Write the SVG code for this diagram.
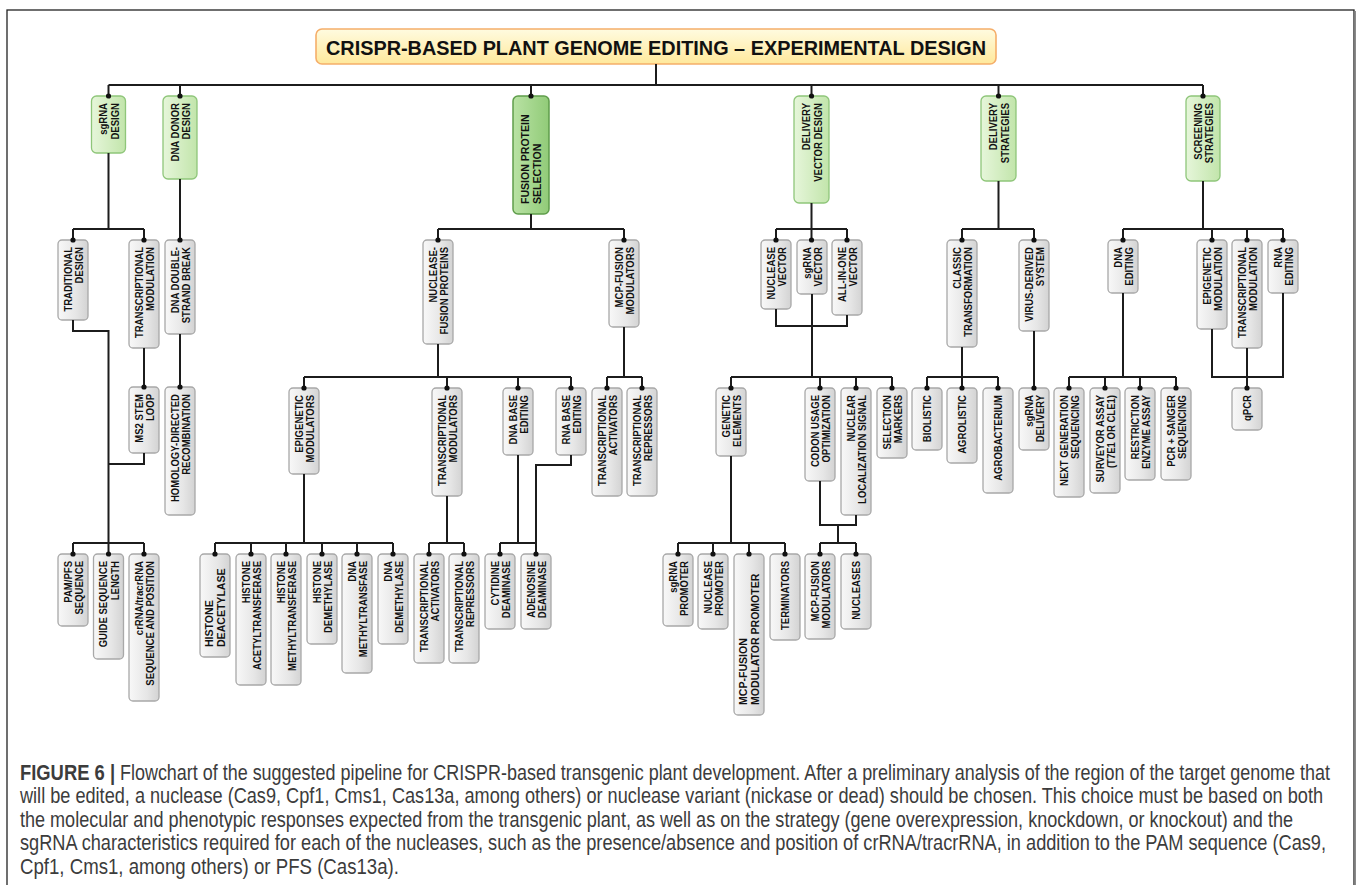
<svg xmlns="http://www.w3.org/2000/svg" width="1356" height="885" viewBox="0 0 1356 885">
<defs>
<linearGradient id="gGray" x1="0" y1="0" x2="1" y2="0"><stop offset="0" stop-color="#f8f8f8"/><stop offset="0.6" stop-color="#e6e6e6"/><stop offset="1" stop-color="#d3d3d3"/></linearGradient>
<linearGradient id="gGreen" x1="0" y1="0" x2="1" y2="0"><stop offset="0" stop-color="#e6f6da"/><stop offset="1" stop-color="#c2e5ab"/></linearGradient>
<linearGradient id="gDark" x1="0" y1="0" x2="1" y2="0"><stop offset="0" stop-color="#b9e2a4"/><stop offset="1" stop-color="#91cb78"/></linearGradient>
<linearGradient id="gTitle" x1="0" y1="0" x2="0" y2="1"><stop offset="0" stop-color="#fffbe0"/><stop offset="1" stop-color="#ffe99c"/></linearGradient>
<marker id="dot" viewBox="0 0 6 6" refX="3" refY="3" markerWidth="6" markerHeight="6" markerUnits="userSpaceOnUse"><circle cx="3" cy="3" r="2.6" fill="#111"/></marker>
</defs>
<style>
.node rect{fill:url(#gGray);stroke:#a8a8a8;stroke-width:1.3}
.green rect{fill:url(#gGreen);stroke:#8fc67a;stroke-width:1.3}
.dark rect{fill:url(#gDark);stroke:#5f9d4b;stroke-width:1.5}
.t{font-family:"Liberation Sans",Arial,sans-serif;font-weight:bold;font-size:10.5px;fill:#111;text-anchor:end}
.big{font-size:11.6px;text-anchor:start}
.c path{fill:none;stroke:#1c1c1c;stroke-width:2}
.c .s{marker-end:url(#dot)}
.cap{font-family:"Liberation Sans",Arial,sans-serif;font-size:21.5px;fill:#3c3c3c}
</style>
<rect x="0" y="0" width="1356" height="885" fill="#ffffff"/>
<rect x="7" y="10" width="1347" height="900" fill="none" stroke="#222" stroke-width="1.3"/>
<line x1="1355.3" y1="11" x2="1355.3" y2="885" stroke="#8a8a8a" stroke-width="1.5"/>

<g id="title">
<rect x="316" y="29" width="680" height="35" rx="6" fill="url(#gTitle)" stroke="#f5ae6a" stroke-width="1.6"/>
<text x="656" y="54.5" text-anchor="middle" font-family="'Liberation Sans',Arial,sans-serif" font-weight="bold" font-size="19.5" fill="#111" textLength="660" lengthAdjust="spacingAndGlyphs">CRISPR-BASED PLANT GENOME EDITING – EXPERIMENTAL DESIGN</text>
</g>

<g id="n-sgrna-design" class="green"><rect x="91.5" y="96" width="34" height="57" rx="5"/><text class="t" transform="translate(107,103) rotate(-90) scale(.91,1)"><tspan x="0" y="0">sgRNA</tspan><tspan x="0" y="12">DESIGN</tspan></text></g>
<g id="n-dna-donor-design" class="green"><rect x="163" y="96" width="34" height="83" rx="5"/><text class="t" transform="translate(178.5,103) rotate(-90) scale(.91,1)"><tspan x="0" y="0">DNA DONOR</tspan><tspan x="0" y="12">DESIGN</tspan></text></g>
<g id="n-fusion-protein-selection" class="dark"><rect x="513" y="96" width="36" height="118" rx="5"/><text class="t big" transform="translate(529,204) rotate(-90) scale(.91,1)"><tspan x="0" y="0">FUSION PROTEIN</tspan><tspan x="0" y="12.5">SELECTION</tspan></text></g>
<g id="n-delivery-vector-design" class="green"><rect x="794" y="96" width="35" height="107" rx="5"/><text class="t" transform="translate(810,103) rotate(-90) scale(.91,1)"><tspan x="0" y="0">DELIVERY</tspan><tspan x="0" y="12">VECTOR DESIGN</tspan></text></g>
<g id="n-delivery-strategies" class="green"><rect x="981" y="96" width="35" height="85" rx="5"/><text class="t" transform="translate(997,103) rotate(-90) scale(.91,1)"><tspan x="0" y="0">DELIVERY</tspan><tspan x="0" y="12">STRATEGIES</tspan></text></g>
<g id="n-screening-strategies" class="green"><rect x="1186" y="96" width="34" height="85" rx="5"/><text class="t" transform="translate(1201.5,103) rotate(-90) scale(.91,1)"><tspan x="0" y="0">SCREENING</tspan><tspan x="0" y="12">STRATEGIES</tspan></text></g>

<g id="n-traditional-design" class="node"><rect x="58" y="240" width="30" height="80" rx="4"/><text class="t" transform="translate(71.5,247) rotate(-90) scale(.91,1)"><tspan x="0" y="0">TRADITIONAL</tspan><tspan x="0" y="12">DESIGN</tspan></text></g>
<g id="n-transcriptional-modulation-1" class="node"><rect x="129" y="240" width="30" height="108" rx="4"/><text class="t" transform="translate(142.5,247) rotate(-90) scale(.91,1)"><tspan x="0" y="0">TRANSCRIPTIONAL</tspan><tspan x="0" y="12">MODULATION</tspan></text></g>
<g id="n-dna-double-strand-break" class="node"><rect x="165" y="240" width="30" height="94" rx="4"/><text class="t" transform="translate(178.5,247) rotate(-90) scale(.91,1)"><tspan x="0" y="0">DNA DOUBLE-</tspan><tspan x="0" y="12">STRAND BREAK</tspan></text></g>
<g id="n-ms2-stem-loop" class="node"><rect x="129" y="387" width="30" height="66" rx="4"/><text class="t" transform="translate(142.5,394) rotate(-90) scale(.91,1)"><tspan x="0" y="0">MS2 STEM</tspan><tspan x="0" y="12">LOOP</tspan></text></g>
<g id="n-homology-directed-recombination" class="node"><rect x="165" y="387" width="30" height="128" rx="4"/><text class="t" transform="translate(178.5,394) rotate(-90) scale(.91,1)"><tspan x="0" y="0">HOMOLOGY-DIRECTED</tspan><tspan x="0" y="12">RECOMBINATION</tspan></text></g>
<g id="n-pam-pfs-sequence" class="node"><rect x="58" y="554" width="30" height="72" rx="4"/><text class="t" transform="translate(71.5,561) rotate(-90) scale(.91,1)"><tspan x="0" y="0">PAM/PFS</tspan><tspan x="0" y="12">SEQUENCE</tspan></text></g>
<g id="n-guide-sequence-length" class="node"><rect x="93.5" y="554" width="30" height="105" rx="4"/><text class="t" transform="translate(107,561) rotate(-90) scale(.91,1)"><tspan x="0" y="0">GUIDE SEQUENCE</tspan><tspan x="0" y="12">LENGTH</tspan></text></g>
<g id="n-crrna-tracrrna" class="node"><rect x="129" y="554" width="30" height="147" rx="4"/><text class="t" transform="translate(142.5,561) rotate(-90) scale(.91,1)"><tspan x="0" y="0">crRNA/tracrRNA</tspan><tspan x="0" y="12">SEQUENCE AND POSITION</tspan></text></g>

<g id="n-nuclease-fusion-proteins" class="node"><rect x="423" y="240" width="30" height="104" rx="4"/><text class="t" transform="translate(436.5,247) rotate(-90) scale(.91,1)"><tspan x="0" y="0">NUCLEASE-</tspan><tspan x="0" y="12">FUSION PROTEINS</tspan></text></g>
<g id="n-mcp-fusion-modulators-1" class="node"><rect x="609" y="240" width="30" height="87" rx="4"/><text class="t" transform="translate(622.5,247) rotate(-90) scale(.91,1)"><tspan x="0" y="0">MCP-FUSION</tspan><tspan x="0" y="12">MODULATORS</tspan></text></g>
<g id="n-epigenetic-modulators" class="node"><rect x="289" y="388" width="30" height="86" rx="4"/><text class="t" transform="translate(302.5,395) rotate(-90) scale(.91,1)"><tspan x="0" y="0">EPIGENETIC</tspan><tspan x="0" y="12">MODULATORS</tspan></text></g>
<g id="n-transcriptional-modulators" class="node"><rect x="432" y="388" width="30" height="108" rx="4"/><text class="t" transform="translate(445.5,395) rotate(-90) scale(.91,1)"><tspan x="0" y="0">TRANSCRIPTIONAL</tspan><tspan x="0" y="12">MODULATORS</tspan></text></g>
<g id="n-dna-base-editing" class="node"><rect x="503" y="388" width="30" height="67" rx="4"/><text class="t" transform="translate(516.5,395) rotate(-90) scale(.91,1)"><tspan x="0" y="0">DNA BASE</tspan><tspan x="0" y="12">EDITING</tspan></text></g>
<g id="n-rna-base-editing" class="node"><rect x="556" y="388" width="30" height="67" rx="4"/><text class="t" transform="translate(569.5,395) rotate(-90) scale(.91,1)"><tspan x="0" y="0">RNA BASE</tspan><tspan x="0" y="12">EDITING</tspan></text></g>
<g id="n-transcriptional-activators-1" class="node"><rect x="592" y="388" width="30" height="108" rx="4"/><text class="t" transform="translate(605.5,395) rotate(-90) scale(.91,1)"><tspan x="0" y="0">TRANSCRIPTIONAL</tspan><tspan x="0" y="12">ACTIVATORS</tspan></text></g>
<g id="n-transcriptional-repressors-1" class="node"><rect x="627" y="388" width="30" height="108" rx="4"/><text class="t" transform="translate(640.5,395) rotate(-90) scale(.91,1)"><tspan x="0" y="0">TRANSCRIPTIONAL</tspan><tspan x="0" y="12">REPRESSORS</tspan></text></g>
<g id="n-histone-deacetylase" class="node"><rect x="200" y="554" width="30" height="103" rx="4"/><text class="t big" transform="translate(213,647) rotate(-90) scale(.91,1)"><tspan x="0" y="0">HISTONE</tspan><tspan x="0" y="12.5">DEACETYLASE</tspan></text></g>
<g id="n-histone-acetyltransferase" class="node"><rect x="236" y="554" width="30" height="131" rx="4"/><text class="t" transform="translate(249.5,561) rotate(-90) scale(.91,1)"><tspan x="0" y="0">HISTONE</tspan><tspan x="0" y="12">ACETYLTRANSFERASE</tspan></text></g>
<g id="n-histone-methyltransferase" class="node"><rect x="271" y="554" width="30" height="131" rx="4"/><text class="t" transform="translate(284.5,561) rotate(-90) scale(.91,1)"><tspan x="0" y="0">HISTONE</tspan><tspan x="0" y="12">METHYLTRANSFERASE</tspan></text></g>
<g id="n-histone-demethylase" class="node"><rect x="307" y="554" width="30" height="90" rx="4"/><text class="t" transform="translate(320.5,561) rotate(-90) scale(.91,1)"><tspan x="0" y="0">HISTONE</tspan><tspan x="0" y="12">DEMETHYLASE</tspan></text></g>
<g id="n-dna-methyltransfase" class="node"><rect x="342" y="554" width="30" height="119" rx="4"/><text class="t" transform="translate(355.5,561) rotate(-90) scale(.91,1)"><tspan x="0" y="0">DNA</tspan><tspan x="0" y="12">METHYLTRANSFASE</tspan></text></g>
<g id="n-dna-demethylase" class="node"><rect x="378" y="554" width="30" height="90" rx="4"/><text class="t" transform="translate(391.5,561) rotate(-90) scale(.91,1)"><tspan x="0" y="0">DNA</tspan><tspan x="0" y="12">DEMETHYLASE</tspan></text></g>
<g id="n-transcriptional-activators-2" class="node"><rect x="414" y="554" width="30" height="109" rx="4"/><text class="t" transform="translate(427.5,561) rotate(-90) scale(.91,1)"><tspan x="0" y="0">TRANSCRIPTIONAL</tspan><tspan x="0" y="12">ACTIVATORS</tspan></text></g>
<g id="n-transcriptional-repressors-2" class="node"><rect x="449" y="554" width="30" height="109" rx="4"/><text class="t" transform="translate(462.5,561) rotate(-90) scale(.91,1)"><tspan x="0" y="0">TRANSCRIPTIONAL</tspan><tspan x="0" y="12">REPRESSORS</tspan></text></g>
<g id="n-cytidine-deaminase" class="node"><rect x="485" y="554" width="30" height="75" rx="4"/><text class="t" transform="translate(498.5,561) rotate(-90) scale(.91,1)"><tspan x="0" y="0">CYTIDINE</tspan><tspan x="0" y="12">DEAMINASE</tspan></text></g>
<g id="n-adenosine-deaminase" class="node"><rect x="521" y="554" width="30" height="75" rx="4"/><text class="t" transform="translate(534.5,561) rotate(-90) scale(.91,1)"><tspan x="0" y="0">ADENOSINE</tspan><tspan x="0" y="12">DEAMINASE</tspan></text></g>

<g id="n-nuclease-vector" class="node"><rect x="761" y="240" width="30" height="69" rx="4"/><text class="t" transform="translate(774.5,247) rotate(-90) scale(.91,1)"><tspan x="0" y="0">NUCLEASE</tspan><tspan x="0" y="12">VECTOR</tspan></text></g>
<g id="n-sgrna-vector" class="node"><rect x="797" y="240" width="30" height="54" rx="4"/><text class="t" transform="translate(810.5,247) rotate(-90) scale(.91,1)"><tspan x="0" y="0">sgRNA</tspan><tspan x="0" y="12">VECTOR</tspan></text></g>
<g id="n-all-in-one-vector" class="node"><rect x="832" y="240" width="30" height="75" rx="4"/><text class="t" transform="translate(845.5,247) rotate(-90) scale(.91,1)"><tspan x="0" y="0">ALL-IN-ONE</tspan><tspan x="0" y="12">VECTOR</tspan></text></g>
<g id="n-genetic-elements" class="node"><rect x="716" y="388" width="30" height="68" rx="4"/><text class="t" transform="translate(729.5,395) rotate(-90) scale(.91,1)"><tspan x="0" y="0">GENETIC</tspan><tspan x="0" y="12">ELEMENTS</tspan></text></g>
<g id="n-codon-usage-optimization" class="node"><rect x="805" y="388" width="30" height="93" rx="4"/><text class="t" transform="translate(818.5,395) rotate(-90) scale(.91,1)"><tspan x="0" y="0">CODON USAGE</tspan><tspan x="0" y="12">OPTIMIZATION</tspan></text></g>
<g id="n-nuclear-localization-signal" class="node"><rect x="841" y="388" width="30" height="127" rx="4"/><text class="t" transform="translate(854.5,395) rotate(-90) scale(.91,1)"><tspan x="0" y="0">NUCLEAR</tspan><tspan x="0" y="12">LOCALIZATION  SIGNAL</tspan></text></g>
<g id="n-selection-markers" class="node"><rect x="877" y="388" width="30" height="70" rx="4"/><text class="t" transform="translate(890.5,395) rotate(-90) scale(.91,1)"><tspan x="0" y="0">SELECTION</tspan><tspan x="0" y="12">MARKERS</tspan></text></g>
<g id="n-mcp-fusion-modulators-2" class="node"><rect x="805" y="554" width="30" height="85" rx="4"/><text class="t" transform="translate(818.5,561) rotate(-90) scale(.91,1)"><tspan x="0" y="0">MCP-FUSION</tspan><tspan x="0" y="12">MODULATORS</tspan></text></g>
<g id="n-nucleases" class="node"><rect x="841" y="554" width="30" height="75" rx="4"/><text class="t" transform="translate(859.75,561) rotate(-90) scale(.91,1)">NUCLEASES</text></g>
<g id="n-sgrna-promoter" class="node"><rect x="663" y="554" width="30" height="72" rx="4"/><text class="t" transform="translate(676.5,561) rotate(-90) scale(.91,1)"><tspan x="0" y="0">sgRNA</tspan><tspan x="0" y="12">PROMOTER</tspan></text></g>
<g id="n-nuclease-promoter" class="node"><rect x="698" y="554" width="30" height="75" rx="4"/><text class="t" transform="translate(711.5,561) rotate(-90) scale(.91,1)"><tspan x="0" y="0">NUCLEASE</tspan><tspan x="0" y="12">PROMOTER</tspan></text></g>
<g id="n-mcp-fusion-modulator-promoter" class="node"><rect x="734" y="554" width="30" height="161" rx="4"/><text class="t big" transform="translate(747,705) rotate(-90) scale(.91,1)"><tspan x="0" y="0">MCP-FUSION</tspan><tspan x="0" y="12.5">MODULATOR PROMOTER</tspan></text></g>
<g id="n-terminators" class="node"><rect x="770" y="554" width="30" height="86" rx="4"/><text class="t" transform="translate(788.75,561) rotate(-90) scale(.91,1)">TERMINATORS</text></g>

<g id="n-classic-transformation" class="node"><rect x="947" y="240" width="30" height="107" rx="4"/><text class="t" transform="translate(960.5,247) rotate(-90) scale(.91,1)"><tspan x="0" y="0">CLASSIC</tspan><tspan x="0" y="12">TRANSFORMATION</tspan></text></g>
<g id="n-virus-derived-system" class="node"><rect x="1019" y="240" width="30" height="91" rx="4"/><text class="t" transform="translate(1032.5,247) rotate(-90) scale(.91,1)"><tspan x="0" y="0">VIRUS-DERIVED</tspan><tspan x="0" y="12">SYSTEM</tspan></text></g>
<g id="n-biolistic" class="node"><rect x="912" y="388" width="30" height="62" rx="4"/><text class="t" transform="translate(930.75,395) rotate(-90) scale(.91,1)">BIOLISTIC</text></g>
<g id="n-agrolistic" class="node"><rect x="947" y="388" width="30" height="75" rx="4"/><text class="t" transform="translate(965.75,395) rotate(-90) scale(.91,1)">AGROLISTIC</text></g>
<g id="n-agrobacterium" class="node"><rect x="983" y="388" width="30" height="105" rx="4"/><text class="t" transform="translate(1001.75,395) rotate(-90) scale(.91,1)">AGROBACTERIUM</text></g>
<g id="n-sgrna-delivery" class="node"><rect x="1019" y="388" width="30" height="62" rx="4"/><text class="t" transform="translate(1032.5,395) rotate(-90) scale(.91,1)"><tspan x="0" y="0">sgRNA</tspan><tspan x="0" y="12">DELIVERY</tspan></text></g>

<g id="n-dna-editing" class="node"><rect x="1108" y="240" width="30" height="53" rx="4"/><text class="t" transform="translate(1121.5,247) rotate(-90) scale(.91,1)"><tspan x="0" y="0">DNA</tspan><tspan x="0" y="12">EDITING</tspan></text></g>
<g id="n-epigenetic-modulation" class="node"><rect x="1197" y="240" width="30" height="89" rx="4"/><text class="t" transform="translate(1210.5,247) rotate(-90) scale(.91,1)"><tspan x="0" y="0">EPIGENETIC</tspan><tspan x="0" y="12">MODULATION</tspan></text></g>
<g id="n-transcriptional-modulation-2" class="node"><rect x="1232" y="240" width="30" height="108" rx="4"/><text class="t" transform="translate(1245.5,247) rotate(-90) scale(.91,1)"><tspan x="0" y="0">TRANSCRIPTIONAL</tspan><tspan x="0" y="12">MODULATION</tspan></text></g>
<g id="n-rna-editing" class="node"><rect x="1268" y="240" width="30" height="53" rx="4"/><text class="t" transform="translate(1281.5,247) rotate(-90) scale(.91,1)"><tspan x="0" y="0">RNA</tspan><tspan x="0" y="12">EDITING</tspan></text></g>
<g id="n-qpcr" class="node"><rect x="1232" y="388" width="30" height="42" rx="4"/><text class="t" transform="translate(1250.75,395) rotate(-90) scale(.91,1)">qPCR</text></g>
<g id="n-next-generation-sequencing" class="node"><rect x="1054" y="388" width="30" height="109" rx="4"/><text class="t" transform="translate(1067.5,395) rotate(-90) scale(.91,1)"><tspan x="0" y="0">NEXT GENERATION</tspan><tspan x="0" y="12">SEQUENCING</tspan></text></g>
<g id="n-surveyor-assay" class="node"><rect x="1090" y="388" width="30" height="105" rx="4"/><text class="t" transform="translate(1103.5,395) rotate(-90) scale(.91,1)"><tspan x="0" y="0">SURVEYOR ASSAY</tspan><tspan x="0" y="12">(T7E1 OR CLE1)</tspan></text></g>
<g id="n-restriction-enzyme-assay" class="node"><rect x="1125" y="388" width="30" height="92" rx="4"/><text class="t" transform="translate(1138.5,395) rotate(-90) scale(.91,1)"><tspan x="0" y="0">RESTRICTION</tspan><tspan x="0" y="12">ENZYME ASSAY</tspan></text></g>
<g id="n-pcr-sanger-sequencing" class="node"><rect x="1161" y="388" width="30" height="92" rx="4"/><text class="t" transform="translate(1174.5,395) rotate(-90) scale(.91,1)"><tspan x="0" y="0">PCR + SANGER</tspan><tspan x="0" y="12">SEQUENCING</tspan></text></g>

<g id="connectors" class="c">
<path d="M656 64V85M108.5 85H1203"/>
<path class="s" d="M108.5 85V96"/><path class="s" d="M180 85V96"/><path class="s" d="M531 85V96"/><path class="s" d="M811.5 85V96"/><path class="s" d="M998.5 85V96"/><path class="s" d="M1203 85V96"/>
<path d="M108.5 153V229M73 229H144"/>
<path class="s" d="M73 229V240"/><path class="s" d="M144 229V240"/>
<path class="s" d="M180 179V240"/>
<path class="s" d="M144 348V387"/><path class="s" d="M180 334V387"/>
<path d="M73 320V331H108.5V543M144 453V464H108.5M73 543H144"/>
<path class="s" d="M73 543V554"/><path class="s" d="M108.5 543V554"/><path class="s" d="M144 543V554"/>
<path d="M531 214V229M438 229H624"/>
<path class="s" d="M438 229V240"/><path class="s" d="M624 229V240"/>
<path d="M438 344V377M304 377H571"/>
<path class="s" d="M304 377V388"/><path class="s" d="M447 377V388"/><path class="s" d="M518 377V388"/><path class="s" d="M571 377V388"/>
<path d="M624 327V377M607 377H642"/>
<path class="s" d="M607 377V388"/><path class="s" d="M642 377V388"/>
<path d="M304 474V543M215 543H393"/>
<path class="s" d="M215 543V554"/><path class="s" d="M251 543V554"/><path class="s" d="M286 543V554"/><path class="s" d="M322 543V554"/><path class="s" d="M357 543V554"/><path class="s" d="M393 543V554"/>
<path d="M447 496V543M429 543H464"/>
<path class="s" d="M429 543V554"/><path class="s" d="M464 543V554"/>
<path d="M518 455V543M571 455V465H536V543M500 543H536"/>
<path class="s" d="M500 543V554"/><path class="s" d="M536 543V554"/>
<path d="M811.5 203V229M776 229H847"/>
<path class="s" d="M776 229V240"/><path class="s" d="M811.5 229V240"/><path class="s" d="M847 229V240"/>
<path d="M776 309V326H847V315M812 294V377M731 377H892"/>
<path class="s" d="M731 377V388"/><path class="s" d="M820 377V388"/><path class="s" d="M856 377V388"/><path class="s" d="M892 377V388"/>
<path d="M820 481V525H856V515M838 525V543M820 543H856"/>
<path class="s" d="M820 543V554"/><path class="s" d="M856 543V554"/>
<path d="M731 456V543M678 543H785"/>
<path class="s" d="M678 543V554"/><path class="s" d="M713 543V554"/><path class="s" d="M749 543V554"/><path class="s" d="M785 543V554"/>
<path d="M998.5 181V229M962 229H1034"/>
<path class="s" d="M962 229V240"/><path class="s" d="M1034 229V240"/>
<path d="M962 347V377M927 377H998"/>
<path class="s" d="M927 377V388"/><path class="s" d="M962 377V388"/><path class="s" d="M998 377V388"/>
<path class="s" d="M1034 331V388"/>
<path d="M1203 181V229M1123 229H1283"/>
<path class="s" d="M1123 229V240"/><path class="s" d="M1212 229V240"/><path class="s" d="M1247 229V240"/><path class="s" d="M1283 229V240"/>
<path d="M1212 329V377H1283V293"/>
<path class="s" d="M1247 348V388"/>
<path d="M1123 293V377M1069 377H1176"/>
<path class="s" d="M1069 377V388"/><path class="s" d="M1105 377V388"/><path class="s" d="M1140 377V388"/><path class="s" d="M1176 377V388"/>
</g>

<g id="caption" transform="scale(0.79,1)">
<text class="cap" x="25.3" y="780" font-weight="bold" fill="#222" textLength="120.3" lengthAdjust="spacingAndGlyphs">FIGURE 6 |</text>
<text class="cap" x="151.9" y="780" textLength="1531.6" lengthAdjust="spacingAndGlyphs">Flowchart of the suggested pipeline for CRISPR-based transgenic plant development. After a preliminary analysis of the region of the target genome that</text>
<text class="cap" x="25.3" y="803.5" textLength="1649.4" lengthAdjust="spacingAndGlyphs">will be edited, a nuclease (Cas9, Cpf1, Cms1, Cas13a, among others) or nuclease variant (nickase or dead) should be chosen. This choice must be based on both</text>
<text class="cap" x="25.3" y="827" textLength="1611.4" lengthAdjust="spacingAndGlyphs">the molecular and phenotypic responses expected from the transgenic plant, as well as on the strategy (gene overexpression, knockdown, or knockout) and the</text>
<text class="cap" x="25.3" y="850.5" textLength="1653.2" lengthAdjust="spacingAndGlyphs">sgRNA characteristics required for each of the nucleases, such as the presence/absence and position of crRNA/tracrRNA, in addition to the PAM sequence (Cas9,</text>
<text class="cap" x="25.3" y="874" textLength="479.7" lengthAdjust="spacingAndGlyphs">Cpf1, Cms1, among others) or PFS (Cas13a).</text>
</g>
</svg>
